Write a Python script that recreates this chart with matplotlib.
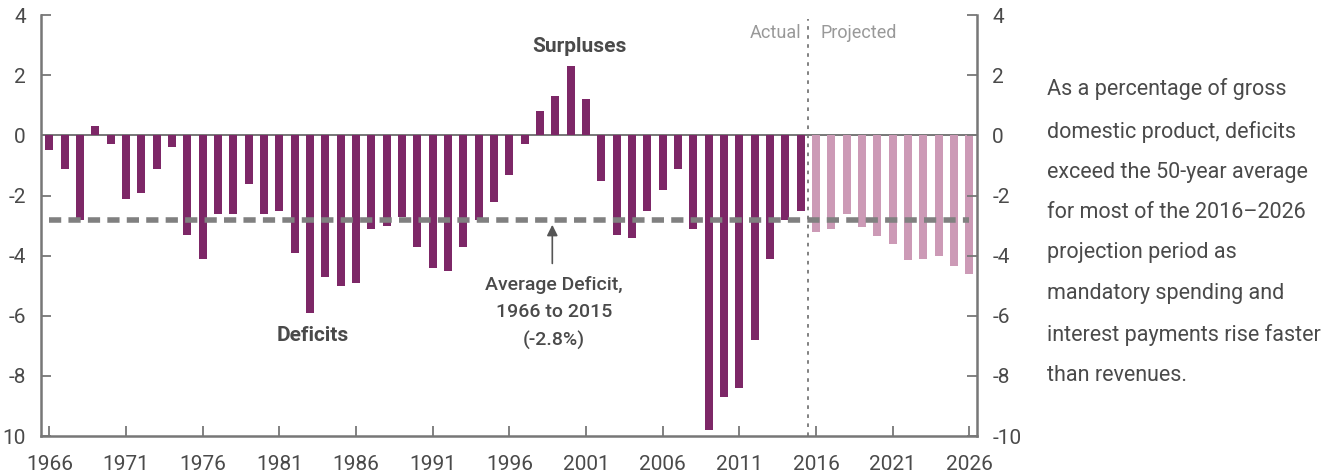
import matplotlib

matplotlib.use("Agg")
import matplotlib.pyplot as plt
import numpy as np

plt.rcParams["font.family"] = ["Roboto", "DejaVu Sans"]

# deficit / surplus as % of GDP
years_actual = list(range(1966, 2016))
vals_actual = [
    -0.5, -1.1, -2.8, 0.3, -0.3, -2.1, -1.9, -1.1, -0.4, -3.3,
    -4.1, -2.6, -2.6, -1.6, -2.6, -2.5, -3.9, -5.9, -4.7, -5.0,
    -4.9, -3.1, -3.0, -2.7, -3.7, -4.4, -4.5, -3.7, -2.8, -2.2,
    -1.3, -0.3, 0.8, 1.3, 2.3, 1.2, -1.5, -3.3, -3.4, -2.5,
    -1.8, -1.1, -3.1, -9.8, -8.7, -8.4, -6.8, -4.1, -2.8, -2.5,
]
years_proj = list(range(2016, 2027))
vals_proj = [-3.2, -3.1, -2.6, -3.05, -3.35, -3.6, -4.15, -4.1, -4.0, -4.35, -4.6]
avg_deficit = -2.8

yticks = [4, 2, 0, -2, -4, -6, -8, -10]
left_labels = ["4", "2", "0", "-2", "-4", "-6", "-8", "10"]
right_labels = ["4", "2", "0", "-2", "-4", "-6", "-8", "-10"]
xticks = list(range(1966, 2027, 5))

note = ("As a percentage of gross\ndomestic product, deficits\n"
        "exceed the 50-year average\nfor most of the 2016\u20132026\n"
        "projection period as\nmandatory spending and\n"
        "interest payments rise faster\nthan revenues.")

dark = "#7d2767"
light = "#cc9ab6"
axis_grey = "#777777"
text_c = "#4a4a4a"

fig = plt.figure(figsize=(13.3, 4.75), dpi=100)
ax = fig.add_axes([0.0308, 0.082, 0.7038, 0.886])

ax.bar(years_actual, vals_actual, width=0.52, color=dark, zorder=2)
ax.bar(years_proj, vals_proj, width=0.52, color=light, zorder=2)
ax.axhline(0, color=axis_grey, lw=1.4, zorder=1)
ax.plot([1966, 2026], [avg_deficit, avg_deficit], color="#808080", lw=4,
        dashes=(2.2, 1.3), zorder=3)
ax.axvline(2015.5, ymin=0.0, ymax=0.99, color=axis_grey, lw=1.3,
           ls=(0, (2, 3)), zorder=3)

ax.set_xlim(1965.45, 2026.5)
ax.set_ylim(-10, 4)
ax.set_yticks(yticks)
ax.set_yticklabels(left_labels)
ax.set_xticks(xticks)
ax.set_xticklabels([str(x) for x in xticks])

for s in ["top", "right"]:
    ax.spines[s].set_visible(False)
for s in ["left", "bottom"]:
    ax.spines[s].set_color(axis_grey)
    ax.spines[s].set_linewidth(1.8)
ax.tick_params(axis="y", direction="in", length=7, width=1.3, color=axis_grey,
               labelsize=15, labelcolor=text_c, pad=11)
ax.tick_params(axis="x", direction="in", length=7, width=1.3, color=axis_grey,
               labelsize=15, labelcolor=text_c, pad=14)

ax2 = ax.twinx()
ax2.set_ylim(-10, 4)
ax2.set_yticks(yticks)
ax2.set_yticklabels(right_labels)
for s in ["top", "left", "bottom"]:
    ax2.spines[s].set_visible(False)
ax2.spines["right"].set_color(axis_grey)
ax2.spines["right"].set_linewidth(1.8)
ax2.tick_params(axis="y", direction="in", length=7, width=1.3, color=axis_grey,
                labelsize=15, labelcolor=text_c, pad=11)

ax.text(2015.05, 3.4, "Actual", ha="right", va="center", fontsize=13, color="#999999")
ax.text(2016.3, 3.4, "Projected", ha="left", va="center", fontsize=13, color="#999999")
ax.text(2000.6, 2.95, "Surpluses", ha="center", va="center", fontsize=15,
        fontweight="bold", color=text_c)
ax.text(1983.2, -6.65, "Deficits", ha="center", va="center", fontsize=15,
        fontweight="bold", color=text_c)
ax.annotate("", xy=(1998.8, -2.88), xytext=(1998.8, -4.35),
            arrowprops=dict(arrowstyle="-|>", color="#555555", lw=1.2,
                            mutation_scale=16))
ax.text(1998.9, -4.68, "Average Deficit,\n1966 to 2015\n(-2.8%)", ha="center",
        va="top", fontsize=14, fontweight=500, color=text_c, linespacing=1.65)

fig.text(0.7875, 0.835, note, ha="left", va="top", fontsize=15.5, color=text_c,
         linespacing=2.2)

fig.savefig("out.png", dpi=100)
